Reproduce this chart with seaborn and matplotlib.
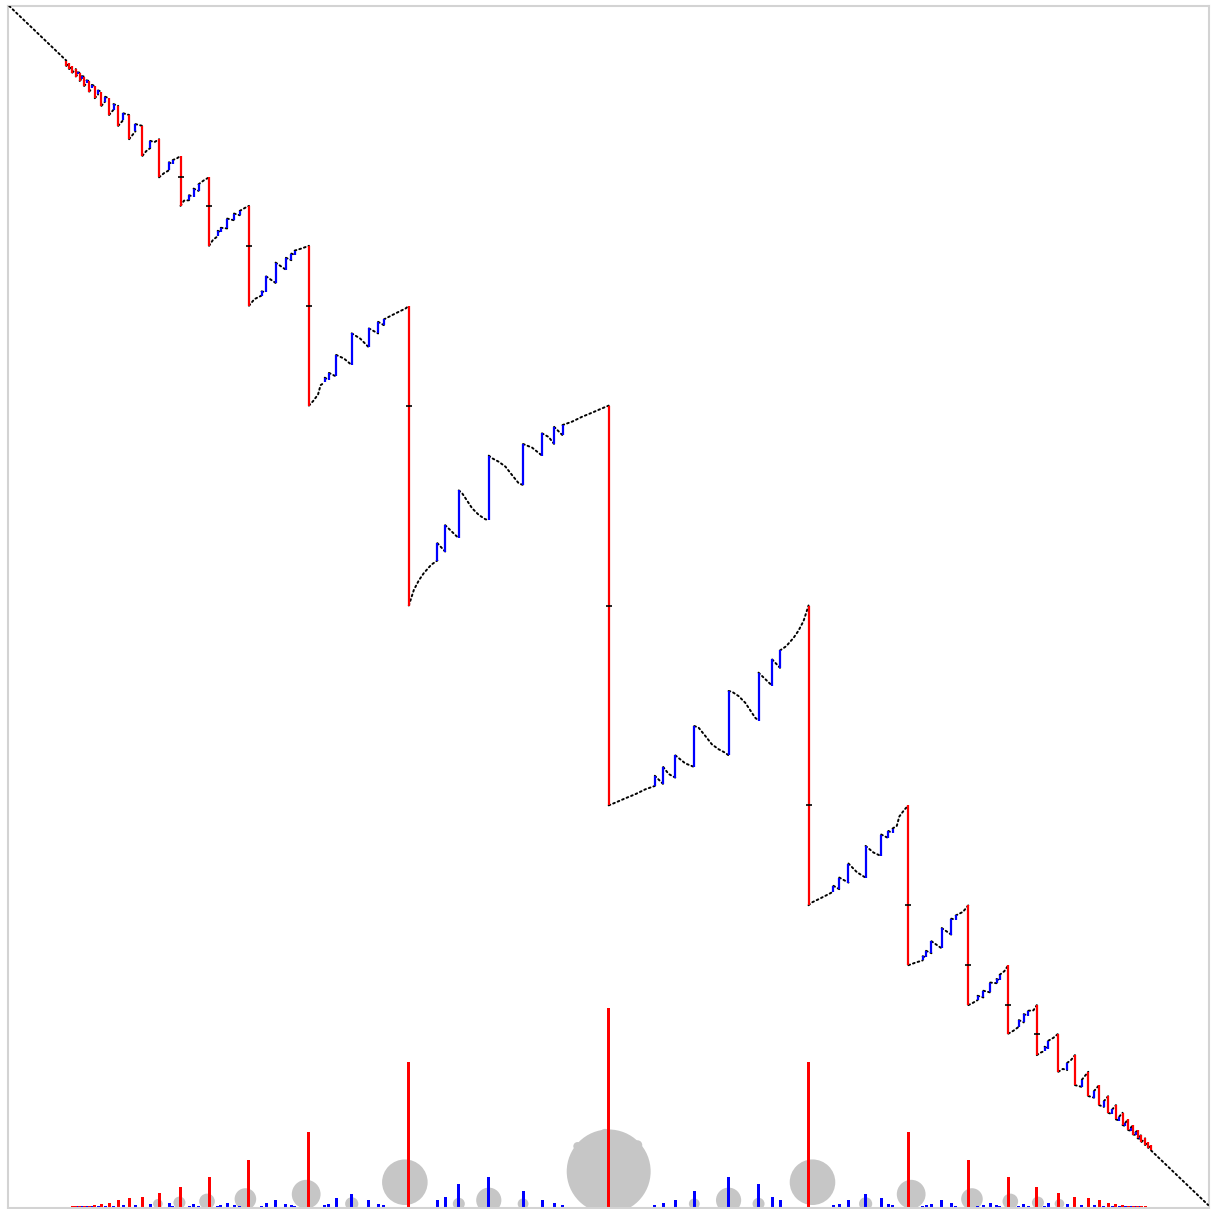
import numpy as np
import pandas as pd
import seaborn as sns
import matplotlib
matplotlib.use("Agg")
from matplotlib import pyplot as plt
from matplotlib.patches import Circle

# curve, left half (x = internal angle, y = value)
# two consecutive points with the same x are a jump
left_pts = [
    (0.0, 1.0), (0.0476, 0.9545),
    (0.0476, 0.95), (0.05, 0.9524),
    (0.05, 0.9474), (0.0526, 0.95),
    (0.0526, 0.9444), (0.0556, 0.9474),
    (0.0556, 0.9412), (0.0571, 0.943), (0.0571, 0.9447), (0.0588, 0.9444),
    (0.0588, 0.9375), (0.0606, 0.9395), (0.0606, 0.9415), (0.0625, 0.9412),
    (0.0625, 0.9333), (0.0645, 0.9355), (0.0645, 0.938), (0.0667, 0.9375),
    (0.0667, 0.9286), (0.069, 0.9313), (0.069, 0.9342), (0.0714, 0.9333),
    (0.0714, 0.9231), (0.0741, 0.9262), (0.0741, 0.9296), (0.0769, 0.9286),
    (0.0769, 0.9167), (0.08, 0.9203), (0.08, 0.9243), (0.0833, 0.9231),
    (0.0833, 0.9091), (0.087, 0.9135), (0.087, 0.9182), (0.0909, 0.9167),
    (0.0909, 0.9), (0.0952, 0.905), (0.0952, 0.9105), (0.1, 0.9091),
    (0.1, 0.8889), (0.1053, 0.8955), (0.1053, 0.9015), (0.1111, 0.9),
    (0.1111, 0.875), (0.1143, 0.879), (0.1176, 0.8815), (0.1176, 0.8875),
    (0.1212, 0.8865), (0.125, 0.8889),
    (0.125, 0.8571), (0.129, 0.8605), (0.1333, 0.863), (0.1333, 0.8697),
    (0.1364, 0.868), (0.1364, 0.8715), (0.14, 0.873), (0.1429, 0.875),
    (0.1429, 0.8333), (0.1458, 0.8377), (0.15, 0.838), (0.15, 0.8422),
    (0.1538, 0.8408), (0.1538, 0.8477), (0.1579, 0.8458), (0.1579, 0.8513),
    (0.1625, 0.8547), (0.1667, 0.8571),
    (0.1667, 0.8), (0.17, 0.805), (0.1739, 0.808), (0.1739, 0.8125),
    (0.1765, 0.8115), (0.1765, 0.815), (0.1818, 0.8145), (0.1818, 0.8227),
    (0.1875, 0.8213), (0.1875, 0.8269), (0.1923, 0.8255), (0.1923, 0.8291),
    (0.1964, 0.8315), (0.2, 0.8333),
    (0.2, 0.75), (0.2045, 0.7555), (0.2105, 0.7585), (0.2105, 0.762),
    (0.2143, 0.7612), (0.2143, 0.7745), (0.2222, 0.769), (0.2222, 0.786),
    (0.2308, 0.78), (0.2308, 0.79), (0.2353, 0.788), (0.2353, 0.7935),
    (0.2381, 0.7925), (0.2381, 0.796), (0.244, 0.7978), (0.25, 0.8),
    (0.25, 0.6667), (0.2535, 0.6705), (0.2576, 0.676), (0.2597, 0.6838),
    (0.2632, 0.686), (0.2632, 0.69), (0.2667, 0.688), (0.2667, 0.694),
    (0.2727, 0.691), (0.2727, 0.709), (0.2792, 0.706), (0.2857, 0.7005),
    (0.2857, 0.727), (0.2929, 0.7225), (0.3, 0.7152), (0.3, 0.7311),
    (0.3077, 0.7269), (0.3077, 0.7366), (0.3125, 0.7338), (0.3125, 0.7386),
    (0.3194, 0.7422), (0.325, 0.745), (0.3306, 0.7477), (0.3333, 0.75),
    (0.3333, 0.5), (0.3375, 0.513), (0.3417, 0.521), (0.3458, 0.527),
    (0.352, 0.534), (0.3571, 0.5375), (0.3571, 0.552), (0.3636, 0.545),
    (0.3636, 0.567), (0.375, 0.556), (0.375, 0.596), (0.3778, 0.5936),
    (0.3806, 0.5894), (0.3861, 0.5811), (0.3917, 0.5755), (0.3972, 0.5719),
    (0.4, 0.5713), (0.4, 0.625), (0.4028, 0.6228), (0.4083, 0.6199),
    (0.4139, 0.6158), (0.4194, 0.6088), (0.425, 0.6019), (0.4286, 0.6005),
    (0.4286, 0.6347), (0.4361, 0.6317), (0.4444, 0.625), (0.4444, 0.6436),
    (0.45, 0.6405), (0.4545, 0.6347), (0.4545, 0.649), (0.4615, 0.642),
    (0.4615, 0.6505), (0.4694, 0.6533), (0.4778, 0.6574), (0.4861, 0.6608),
    (0.4944, 0.6644), (0.5, 0.6667),
]

# right half
right_pts = [
    (0.5, 0.3333), (0.5056, 0.3356), (0.5139, 0.3392), (0.5222, 0.3426),
    (0.5306, 0.3467), (0.5385, 0.3495), (0.5385, 0.358), (0.5455, 0.351),
    (0.5455, 0.3653), (0.55, 0.3595), (0.5556, 0.3564), (0.5556, 0.375),
    (0.5639, 0.3683), (0.5714, 0.3653), (0.5714, 0.3995), (0.575, 0.3981),
    (0.5806, 0.3912), (0.5861, 0.3842), (0.5917, 0.3801), (0.5972, 0.3772),
    (0.6, 0.375), (0.6, 0.4287), (0.6028, 0.4281), (0.6083, 0.4245),
    (0.6139, 0.4189), (0.6194, 0.4106), (0.6222, 0.4064), (0.625, 0.404),
    (0.625, 0.444), (0.6364, 0.433), (0.6364, 0.455), (0.6429, 0.448),
    (0.6429, 0.4625), (0.648, 0.466), (0.6542, 0.473), (0.6583, 0.479),
    (0.6625, 0.487), (0.6667, 0.5),
    (0.6667, 0.25), (0.6694, 0.2523), (0.675, 0.255), (0.6806, 0.2578),
    (0.6875, 0.2614), (0.6875, 0.2662), (0.6923, 0.2634), (0.6923, 0.2731),
    (0.7, 0.2689), (0.7, 0.2848), (0.7071, 0.2775), (0.7143, 0.273),
    (0.7143, 0.2995), (0.7208, 0.294), (0.7273, 0.291), (0.7273, 0.309),
    (0.7333, 0.306), (0.7333, 0.312), (0.7368, 0.31), (0.7368, 0.314),
    (0.7403, 0.3162), (0.7424, 0.324), (0.7465, 0.3295), (0.75, 0.3333),
    (0.75, 0.2), (0.756, 0.2022), (0.7619, 0.204), (0.7619, 0.2075),
    (0.7647, 0.2065), (0.7647, 0.212), (0.7692, 0.21), (0.7692, 0.22),
    (0.7778, 0.214), (0.7778, 0.231), (0.7857, 0.2255), (0.7857, 0.2388),
    (0.7895, 0.238), (0.7895, 0.2415), (0.7955, 0.2445), (0.8, 0.25),
    (0.8, 0.1667), (0.8036, 0.1685), (0.8077, 0.1709), (0.8077, 0.1745),
    (0.8125, 0.1731), (0.8125, 0.1787), (0.8182, 0.1773), (0.8182, 0.1855),
    (0.8235, 0.185), (0.8235, 0.1885), (0.8261, 0.1875), (0.8261, 0.192),
    (0.83, 0.195), (0.8333, 0.2),
    (0.8333, 0.1429), (0.8375, 0.1453), (0.8421, 0.1487), (0.8421, 0.1542),
    (0.8462, 0.1523), (0.8462, 0.1592), (0.85, 0.1578), (0.85, 0.162),
    (0.8542, 0.1623), (0.8571, 0.1667),
    (0.8571, 0.125), (0.86, 0.127), (0.8636, 0.1285), (0.8636, 0.132),
    (0.8667, 0.1303), (0.8667, 0.137), (0.871, 0.1395), (0.875, 0.1429),
    (0.875, 0.1111), (0.8788, 0.1135), (0.8824, 0.1125), (0.8824, 0.1185),
    (0.8857, 0.121), (0.8889, 0.125),
    (0.8889, 0.1), (0.8947, 0.0985), (0.8947, 0.1045), (0.9, 0.1111),
    (0.9, 0.0909), (0.9048, 0.0895), (0.9048, 0.095), (0.9091, 0.1),
    (0.9091, 0.0833), (0.913, 0.0818), (0.913, 0.0865), (0.9167, 0.0909),
    (0.9167, 0.0769), (0.92, 0.0757), (0.92, 0.0797), (0.9231, 0.0833),
    (0.9231, 0.0714), (0.9259, 0.0704), (0.9259, 0.0738), (0.9286, 0.0769),
    (0.9286, 0.0667), (0.931, 0.0658), (0.931, 0.0687), (0.9333, 0.0714),
    (0.9333, 0.0625), (0.9355, 0.062), (0.9355, 0.0645), (0.9375, 0.0667),
    (0.9375, 0.0588), (0.9394, 0.0585), (0.9394, 0.0605), (0.9412, 0.0625),
    (0.9412, 0.0556), (0.9429, 0.0553), (0.9429, 0.057), (0.9444, 0.0588),
    (0.9444, 0.0526), (0.9474, 0.0556),
    (0.9474, 0.05), (0.95, 0.0526),
    (0.95, 0.0476), (0.9524, 0.05),
    (0.9524, 0.0455), (1.0, 0.0),
]

# jumps at 1/n and 1-1/n (red)
main_x = [0.0476, 0.05, 0.0526, 0.0556, 0.0588, 0.0625, 0.0667, 0.0714, 0.0769,
          0.0833, 0.0909, 0.1, 0.1111, 0.125, 0.1429, 0.1667, 0.2, 0.25, 0.3333,
          0.5, 0.6667, 0.75, 0.8, 0.8333, 0.8571, 0.875, 0.8889, 0.9, 0.9091,
          0.9167, 0.9231, 0.9286, 0.9333, 0.9375, 0.9412, 0.9444, 0.9474, 0.95,
          0.9524]
red_bar_h = [0.0012, 0.0012, 0.0013, 0.0014, 0.0015, 0.0017, 0.002, 0.0025, 0.003,
             0.0042, 0.0067, 0.0083, 0.0095, 0.0125, 0.0175, 0.026, 0.04, 0.0634,
             0.1218, 0.1668, 0.1218, 0.0634, 0.04, 0.026, 0.0175, 0.0125, 0.0095,
             0.0083, 0.0067, 0.0042, 0.003, 0.0025, 0.002, 0.0017, 0.0015, 0.0014,
             0.0013, 0.0012, 0.0012]

# other jumps (blue bars)
blue_bar_x = [0.0571, 0.0606, 0.0645, 0.069, 0.0741, 0.08, 0.087, 0.0952, 0.1053,
              0.1176, 0.1333, 0.1364, 0.15, 0.1538, 0.1579, 0.1739, 0.1765, 0.1818,
              0.1875, 0.1923, 0.2105, 0.2143, 0.2222, 0.2308, 0.2353, 0.2381, 0.2632,
              0.2667, 0.2727, 0.2857, 0.3, 0.3077, 0.3125, 0.3571, 0.3636, 0.375,
              0.4, 0.4286, 0.4444, 0.4545, 0.4615,
              0.5385, 0.5455, 0.5556, 0.5714, 0.6, 0.625, 0.6364, 0.6429, 0.6875,
              0.6923, 0.7, 0.7143, 0.7273, 0.7333, 0.7368, 0.7619, 0.7647, 0.7692,
              0.7778, 0.7857, 0.7895, 0.8077, 0.8125, 0.8182, 0.8235, 0.8261, 0.8421,
              0.8462, 0.85, 0.8636, 0.8667, 0.8824, 0.8947, 0.9048, 0.913, 0.92,
              0.9259, 0.931, 0.9355, 0.9394, 0.9429]
blue_bar_h = [0.0013, 0.0013, 0.0013, 0.0013, 0.0015, 0.0015, 0.0017, 0.0025, 0.0025,
              0.0033, 0.004, 0.0015, 0.0017, 0.0035, 0.002, 0.0017, 0.0025, 0.0045,
              0.0025, 0.0017, 0.0017, 0.0045, 0.0067, 0.0035, 0.0025, 0.0017, 0.0025,
              0.003, 0.008, 0.012, 0.007, 0.0035, 0.0025, 0.0067, 0.0095, 0.02,
              0.026, 0.0145, 0.0067, 0.0045, 0.0025,
              0.0025, 0.0045, 0.0067, 0.0145, 0.026, 0.02, 0.0095, 0.0067, 0.0025,
              0.0035, 0.007, 0.012, 0.008, 0.003, 0.0025, 0.0017, 0.0025, 0.0035,
              0.0067, 0.0045, 0.0017, 0.0017, 0.0025, 0.0045, 0.0025, 0.0017, 0.002,
              0.0035, 0.0017, 0.0015, 0.004, 0.0033, 0.0025, 0.0025, 0.0017, 0.0015,
              0.0015, 0.0013, 0.0013, 0.0013, 0.0013]

# grey bulbs along the bottom
bulb_x = [0.124, 0.142, 0.165, 0.197, 0.2477, 0.2857, 0.33, 0.375, 0.4, 0.4286, 0.5,
          0.5714, 0.6, 0.625, 0.67, 0.7143, 0.7523, 0.803, 0.835, 0.858, 0.876]
bulb_r = [0.004, 0.005, 0.0065, 0.009, 0.012, 0.0055, 0.019, 0.005, 0.0105, 0.0045,
          0.035, 0.0045, 0.0105, 0.005, 0.019, 0.0055, 0.012, 0.009, 0.0065, 0.005,
          0.004]
bulb_h = [0.001, 0.002, 0.003, 0.005, 0.009, 0.001, 0.019, 0.001, 0.004, 0.001, 0.028,
          0.001, 0.004, 0.001, 0.019, 0.001, 0.009, 0.005, 0.003, 0.002, 0.001]
bud_x = [0.497, 0.474, 0.524]
bud_y = [0.059, 0.049, 0.05]
bud_r = [0.0045, 0.0035, 0.004]

# small marks where the big jumps cross the diagonal
cross_x = [0.1429, 0.1667, 0.2, 0.25, 0.3333, 0.5, 0.6667, 0.75, 0.8, 0.8333, 0.8571]
cross_y = [0.8571, 0.8333, 0.8, 0.75, 0.6667, 0.5, 0.3333, 0.25, 0.2, 0.1667, 0.1429]

sns.set_theme(style="white")

# split the curve into black arcs and coloured jumps
pts = left_pts + right_pts
xs = np.array([p[0] for p in pts])
ys = np.array([p[1] for p in pts])
main_arr = np.array(main_x)

arc_rows = []
red_j, blue_j = [], []
seg = 0
arc_rows.append((seg, xs[0], ys[0]))
for i in range(1, len(xs)):
    if abs(xs[i] - xs[i - 1]) < 1e-9:
        if np.min(np.abs(main_arr - xs[i])) < 1e-4:
            red_j.append((xs[i], ys[i - 1], ys[i]))
        else:
            blue_j.append((xs[i], ys[i - 1], ys[i]))
        seg += 1
    arc_rows.append((seg, xs[i], ys[i]))
arc_df = pd.DataFrame(arc_rows, columns=["seg", "x", "y"])

fig = plt.figure(figsize=(12.13, 12.09), dpi=100)
ax = fig.add_axes([8 / 1213, 1 / 1209, 1201 / 1213, 1202 / 1209])
base = -0.0025

for x, r, h in zip(bulb_x, bulb_r, bulb_h):
    ax.add_patch(Circle((x, h), r, color="#c6c6c6", lw=0, zorder=1))
for x, y, r in zip(bud_x, bud_y, bud_r):
    ax.add_patch(Circle((x, y), r, color="#c6c6c6", lw=0, zorder=1))

ax.bar(blue_bar_x, blue_bar_h, width=0.0025, bottom=base, color="#0000ff", lw=0, zorder=2)
ax.bar(main_x, red_bar_h, width=0.0025, bottom=base, color="#ff0000", lw=0, zorder=2)

sns.lineplot(data=arc_df, x="x", y="y", units="seg", estimator=None, sort=False,
             color="black", linewidth=1.4, linestyle=(0, (0.9, 1.6)),
             dash_capstyle="round", ax=ax, legend=False, zorder=3)

bj = np.array(blue_j)
rj = np.array(red_j)
ax.vlines(bj[:, 0], bj[:, 1], bj[:, 2], color="#0000ff", lw=1.6, zorder=4)
ax.vlines(rj[:, 0], rj[:, 1], rj[:, 2], color="#ff0000", lw=1.6, zorder=5)
ax.plot(cross_x, cross_y, ls="none", marker="_", ms=4, mew=1.2, color="black", zorder=6)

ax.set_xlim(-0.001, 1.0007)
ax.set_ylim(base, 1.0)
ax.set_xticks([])
ax.set_yticks([])
ax.set_xlabel("")
ax.set_ylabel("")
for s in ax.spines.values():
    s.set_color("#d3d3d3")
    s.set_linewidth(1.5)

fig.savefig("out.png", dpi=100, facecolor="white")
